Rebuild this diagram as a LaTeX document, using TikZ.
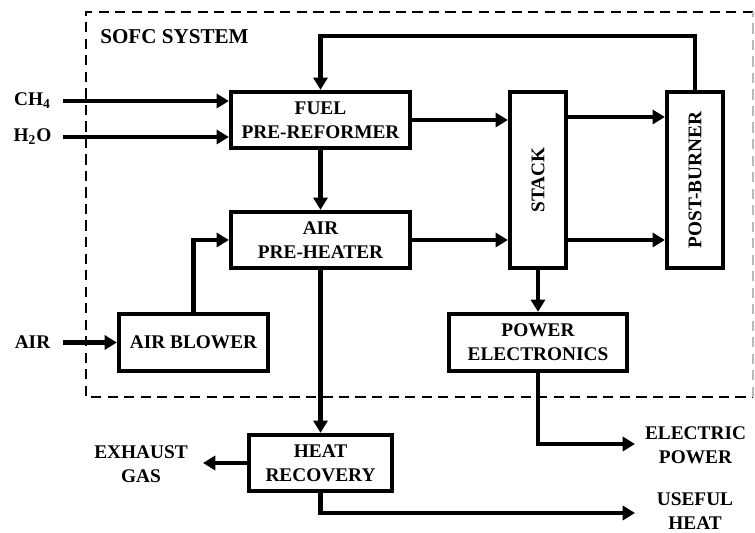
\documentclass[tikz,border=0pt]{standalone}
\usepackage{fontspec}
\setmainfont{Liberation Serif}
\usetikzlibrary{arrows.meta, positioning, calc}

\begin{document}
\begin{tikzpicture}[>={Triangle[length=7pt, width=8pt]}, font=\bfseries\fontsize{11}{13.5}\selectfont,
  box/.style={draw, line width=2.4pt, align=center, inner sep=2pt},
  flow/.style={->, line width=2.6pt},
  lbl/.style={align=center, inner sep=0pt},
  border/.style={line width=1.6pt, dash pattern=on 5.8pt off 3.6pt}]
  \useasboundingbox (0,0) rectangle (15.1,10.66);

  % system boundary
  \draw[border] (15.06,10.42) -- (1.72,10.42) -- (1.72,2.72) -- (15.06,2.72);
  \draw[border, gray!55] (15.06,2.72) -- (15.06,10.42);
  \node[lbl, anchor=west, font=\bfseries\fontsize{12}{14}\selectfont] (sys) at (2.0,9.92) {SOFC SYSTEM};

  % blocks
  \node[box, minimum width=3.58cm, minimum height=1.12cm] (fuel) at (6.41,8.26) {FUEL\\PRE-REFORMER};
  \node[box, minimum width=3.58cm, minimum height=1.12cm] (airpre) at (6.41,5.86) {AIR\\PRE-HEATER};
  \node[box, minimum width=1.12cm, minimum height=3.52cm] (stack) at (10.76,7.06) {\rotatebox{90}{STACK}};
  \node[box, minimum width=1.12cm, minimum height=3.52cm] (burner) at (13.9,7.06) {\rotatebox{90}{POST-BURNER}};
  \node[box, minimum width=2.98cm, minimum height=1.14cm] (blower) at (3.87,3.81) {AIR BLOWER};
  \node[box, minimum width=3.56cm, minimum height=1.14cm] (power) at (10.76,3.81) {POWER\\ELECTRONICS};
  \node[box, minimum width=2.86cm, minimum height=1.12cm] (heat) at (6.41,1.40) {HEAT\\RECOVERY};

  % inputs and outputs
  \node[lbl] (ch4) at (0.65,8.64) {CH\textsubscript{4}};
  \node[lbl] (h2o) at (0.65,7.92) {H\textsubscript{2}O};
  \node[lbl] (air) at (0.65,3.81) {AIR};
  \node[lbl] (exhaust) at (2.82,1.38) {EXHAUST\\GAS};
  \node[lbl] (elec) at (13.91,1.76) {ELECTRIC\\POWER};
  \node[lbl] (useful) at (13.9,0.44) {USEFUL\\HEAT};

  \coordinate (ch4in) at (1.26,8.64);
  \coordinate (h2oin) at (1.26,7.92);
  \coordinate (airin) at (1.26,3.81);
  \coordinate (exhout) at (4.06,1.40);
  \coordinate (elecout) at (12.7,1.78);
  \coordinate (heatout) at (12.7,0.40);

  % flows
  \draw[flow] (ch4in) -- (ch4in -| fuel.west);
  \draw[flow] (h2oin) -- (h2oin -| fuel.west);
  \draw[flow] (airin) -- (blower.west);
  \draw[flow] (blower.north) |- (airpre.west);
  \draw[flow] (fuel.south) -- (airpre.north);
  \draw[flow] (fuel.east) -- (fuel.east -| stack.west);
  \draw[flow] (airpre.east) -- (airpre.east -| stack.west);
  \draw[flow] ([yshift=1.26cm]stack.east) -- ([yshift=1.26cm]stack.east -| burner.west);
  \draw[flow] ([yshift=-1.2cm]stack.east) -- ([yshift=-1.2cm]stack.east -| burner.west);
  \draw[flow] (burner.north) -- ++(0,1.08) -| (fuel.north);
  \draw[flow] (stack.south) -- (power.north);
  \draw[flow] (airpre.south) -- (heat.north);
  \draw[flow] (power.south) |- (elecout);
  \draw[flow] (heat.west) -- (exhout);
  \draw[flow] (heat.south) |- (heatout);
\end{tikzpicture}
\end{document}
